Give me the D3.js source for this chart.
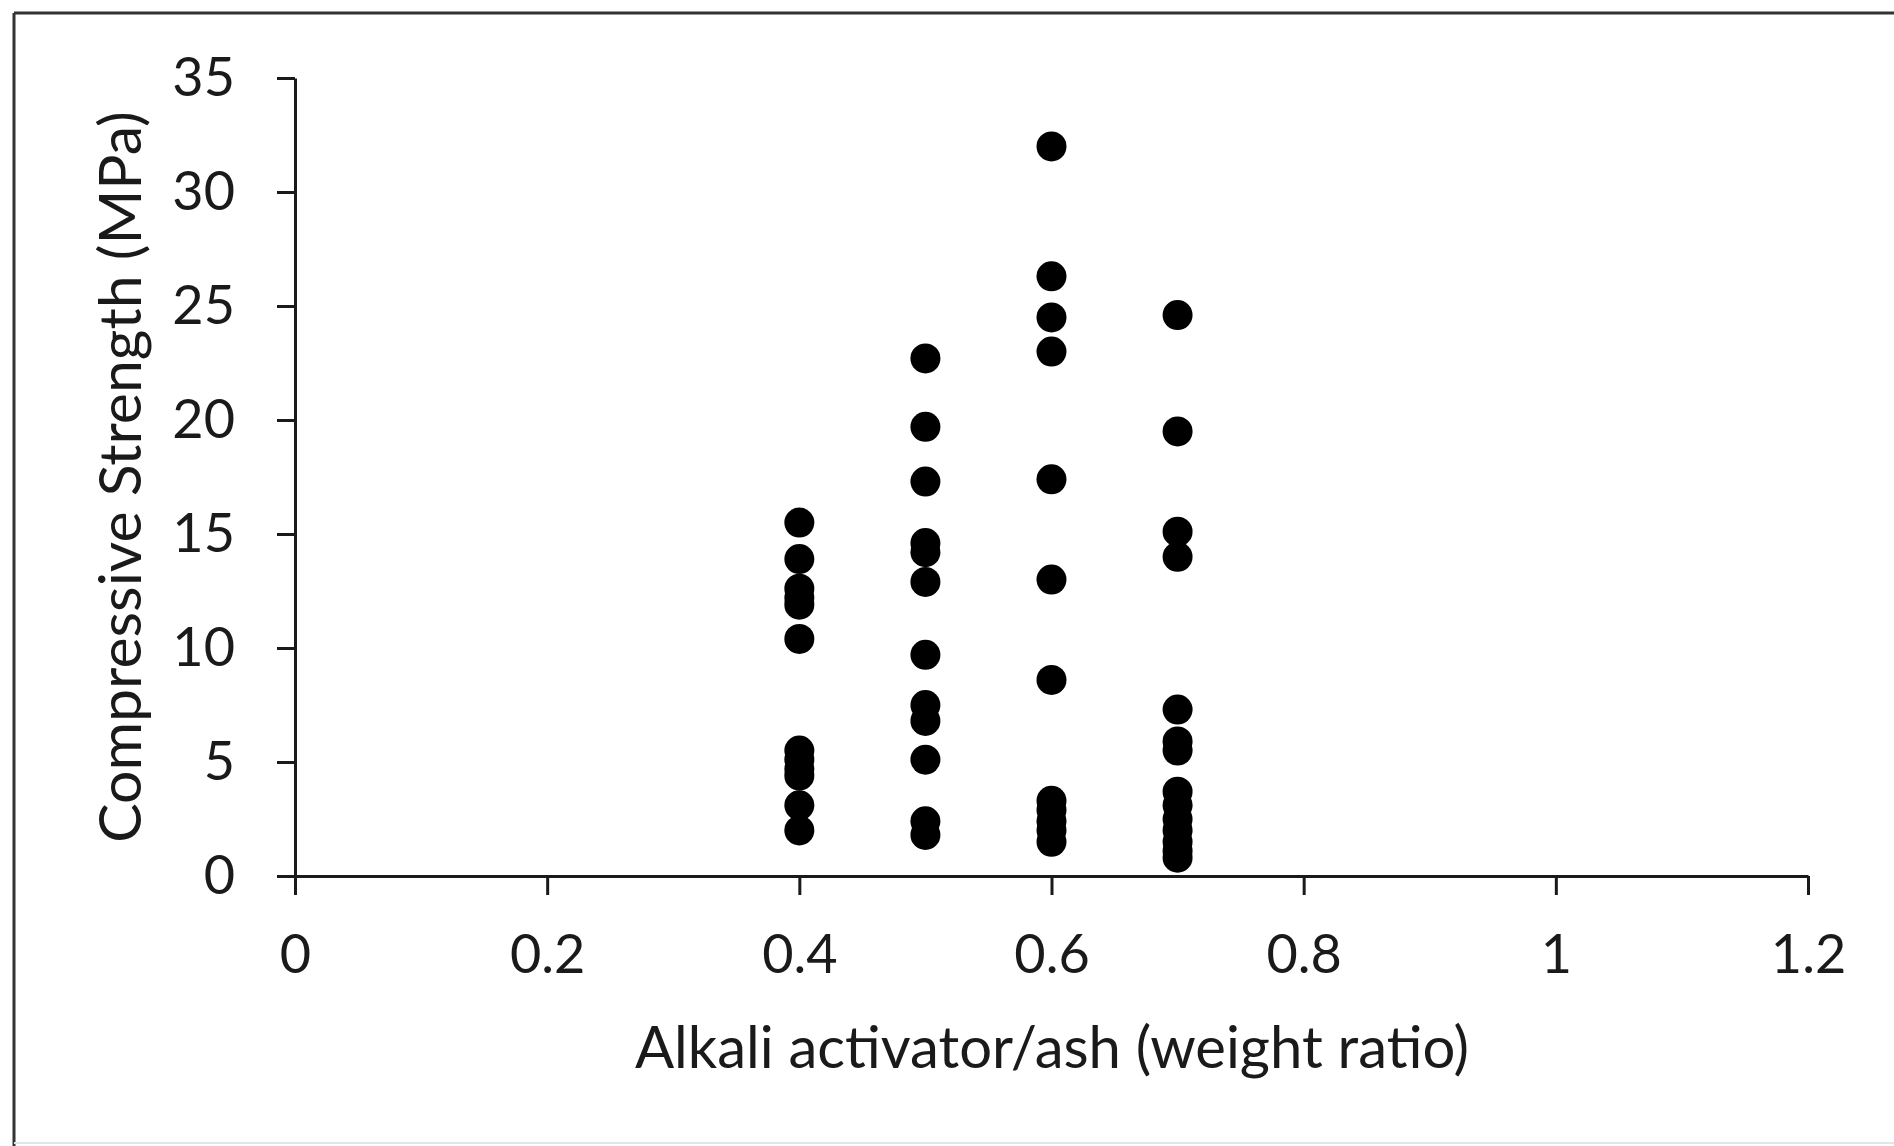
<!DOCTYPE html>
<html>
<head>
<meta charset="utf-8">
<script src="https://cdn.jsdelivr.net/npm/d3@7"></script>
<style>
  body { margin: 0; background: #fff; }
  svg text { font-family: Lato, "Open Sans", sans-serif; fill: #1a1a1a; }
</style>
</head>
<body>
<div id="chart"></div>
<script>
// alkali activator / ash ratio for each column of points
const ratios = [0.4, 0.5, 0.6, 0.7];

// compressive strength (MPa), one list per ratio
const strength04 = [15.5, 13.9, 12.6, 12.2, 11.9, 10.4, 5.5, 5.1, 4.7, 4.4, 3.1, 2.0];
const strength05 = [22.7, 19.7, 17.3, 14.6, 14.2, 12.9, 9.7, 7.5, 6.8, 5.1, 2.4, 1.8];
const strength06 = [32.0, 26.3, 24.5, 23.0, 17.4, 13.0, 8.6, 3.3, 2.9, 2.4, 2.0, 1.5];
const strength07 = [24.6, 19.5, 15.1, 14.0, 7.3, 5.9, 5.5, 3.7, 3.1, 2.5, 2.0, 1.5, 1.1, 0.8];

const xTicks = [0, 0.2, 0.4, 0.6, 0.8, 1, 1.2];
const yTicks = [0, 5, 10, 15, 20, 25, 30, 35];

const xTitle = "Alkali activator/ash (weight ratio)";
const yTitle = "Compressive Strength (MPa)";

const W = 1894, H = 1146;

const svg = d3.select("#chart").append("svg")
    .attr("width", W)
    .attr("height", H);

svg.append("rect").attr("width", W).attr("height", H).attr("fill", "#fff");

// outer frame (left + top dark, bottom faint)
svg.append("line").attr("x1", 14).attr("y1", 13).attr("x2", 14).attr("y2", H)
    .attr("stroke", "#333").attr("stroke-width", 3);
svg.append("line").attr("x1", 14).attr("y1", 13).attr("x2", W).attr("y2", 13)
    .attr("stroke", "#333").attr("stroke-width", 3);
svg.append("line").attr("x1", 14).attr("y1", 1143).attr("x2", W).attr("y2", 1143)
    .attr("stroke", "#e4e4e4").attr("stroke-width", 2);

const x = d3.scaleLinear().domain([0, 1.2]).range([295, 1808]);
const y = d3.scaleLinear().domain([0, 35]).range([876, 78]);

// points
const points = [];
[strength04, strength05, strength06, strength07].forEach((list, i) => {
    list.forEach(v => points.push({ r: ratios[i], v: v }));
});

svg.append("g")
    .selectAll("circle")
    .data(points)
    .enter()
    .append("circle")
    .attr("cx", d => x(d.r))
    .attr("cy", d => y(d.v))
    .attr("r", 15)
    .attr("fill", "#000");

// axes
const yAxis = svg.append("g")
    .attr("transform", `translate(${x(0)},0)`)
    .call(d3.axisLeft(y).tickValues(yTicks).tickSize(18).tickSizeOuter(0).tickPadding(42)
        .tickFormat(d3.format("d")));

const xAxis = svg.append("g")
    .attr("transform", `translate(0,${y(0)})`)
    .call(d3.axisBottom(x).tickValues(xTicks).tickSize(19).tickSizeOuter(0).tickPadding(40)
        .tickFormat(d => d3.format("~g")(d)));

[yAxis, xAxis].forEach(g => {
    g.select(".domain").attr("stroke", "#1a1a1a").attr("stroke-width", 3);
    g.selectAll(".tick line").attr("stroke", "#1a1a1a").attr("stroke-width", 3);
    g.selectAll(".tick text").attr("font-size", 54).attr("fill", "#1a1a1a")
        .style("font-family", "Lato, 'Open Sans', sans-serif");
});

// titles
svg.append("text")
    .attr("x", 1052)
    .attr("y", 1068)
    .attr("text-anchor", "middle")
    .attr("font-size", 58)
    .text(xTitle);

svg.append("text")
    .attr("transform", `translate(141,${(y(0) + y(35)) / 2}) rotate(-90)`)
    .attr("text-anchor", "middle")
    .attr("font-size", 59)
    .text(yTitle);
</script>
</body>
</html>
